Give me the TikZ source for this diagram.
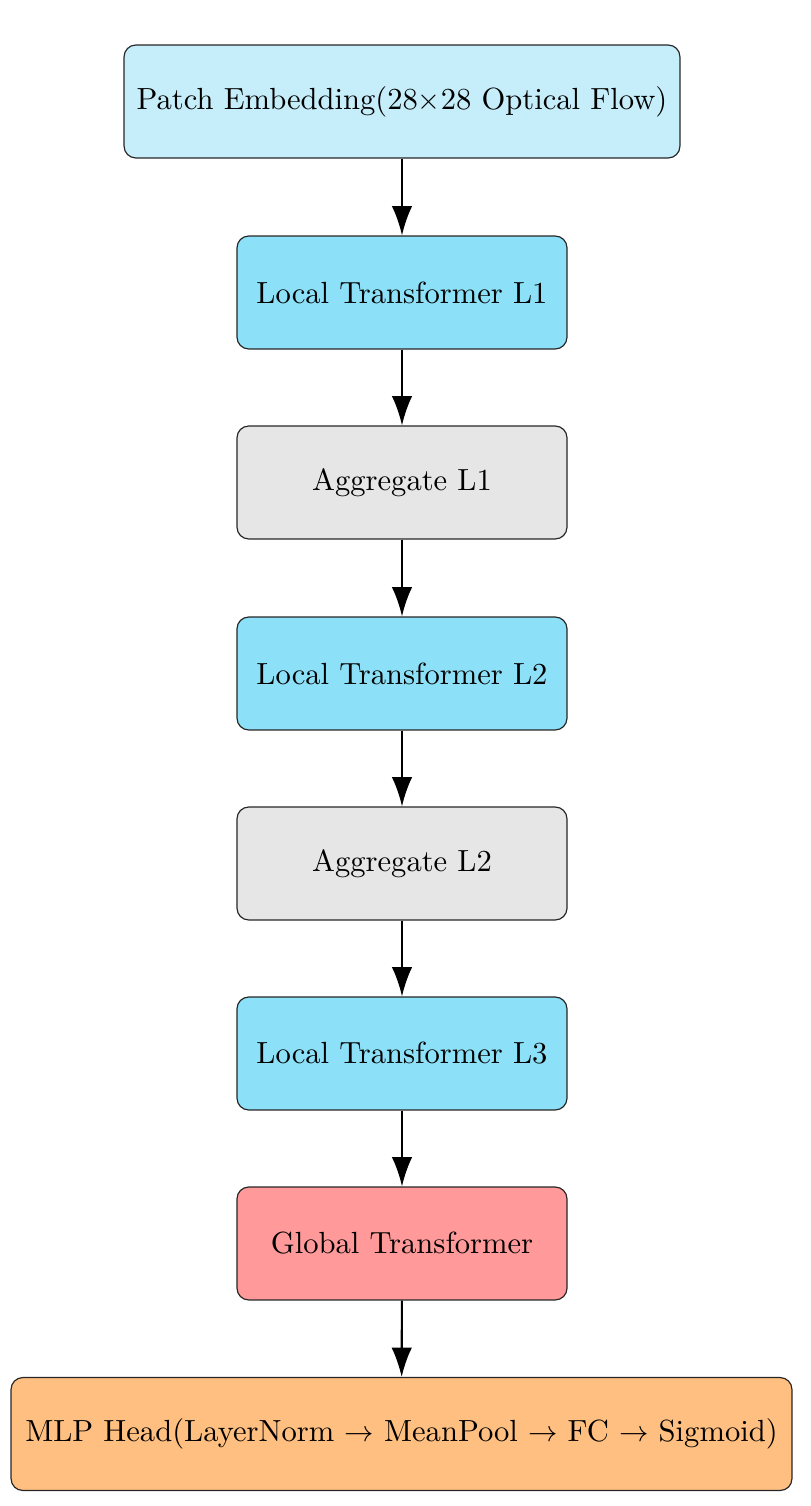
\documentclass[tikz,border=0pt]{standalone}
\usetikzlibrary{arrows.meta}
\definecolor{cEmb}{RGB}{198,238,250}
\definecolor{cLoc}{RGB}{140,224,247}
\definecolor{cAgg}{RGB}{230,230,230}
\definecolor{cGlob}{RGB}{255,153,154}
\definecolor{cMlp}{RGB}{255,191,128}
\tikzset{
  blk/.style={draw=black!85, line width=0.4pt, rounded corners=4pt, minimum height=38.4pt, minimum width=112.2pt, inner sep=0pt, align=center, font=\fontsize{10.4}{12.5}\selectfont},
  flow/.style={-{Latex[length=10pt,width=7pt]}, line width=0.7pt, shorten >=0pt}
}
\begin{document}
\begin{tikzpicture}[x=0.34pt,y=-0.34pt]
\useasboundingbox (0,0) rectangle (810,1506);
\node[blk, fill=cEmb, minimum width=189pt] (emb) at (402,101.5) {Patch Embedding(28$\times$28 Optical Flow)};
\node[blk, fill=cLoc] (l1) at (402,292.5) {Local Transformer L1};
\node[blk, fill=cAgg] (a1) at (402,482.5) {Aggregate L1};
\node[blk, fill=cLoc] (l2) at (402,673.5) {Local Transformer L2};
\node[blk, fill=cAgg] (a2) at (402,863.5) {Aggregate L2};
\node[blk, fill=cLoc] (l3) at (402,1053.5) {Local Transformer L3};
\node[blk, fill=cGlob] (glob) at (402,1243.5) {Global Transformer};
\node[blk, fill=cMlp, minimum width=265.5pt] (mlp) at (401.5,1434) {MLP Head(LayerNorm $\rightarrow$ MeanPool $\rightarrow$ FC $\rightarrow$ Sigmoid)};
\draw[flow] (emb) -- (l1);
\draw[flow] (l1) -- (a1);
\draw[flow] (a1) -- (l2);
\draw[flow] (l2) -- (a2);
\draw[flow] (a2) -- (l3);
\draw[flow] (l3) -- (glob);
\draw[flow] (glob) -- (mlp);
\end{tikzpicture}
\end{document}
